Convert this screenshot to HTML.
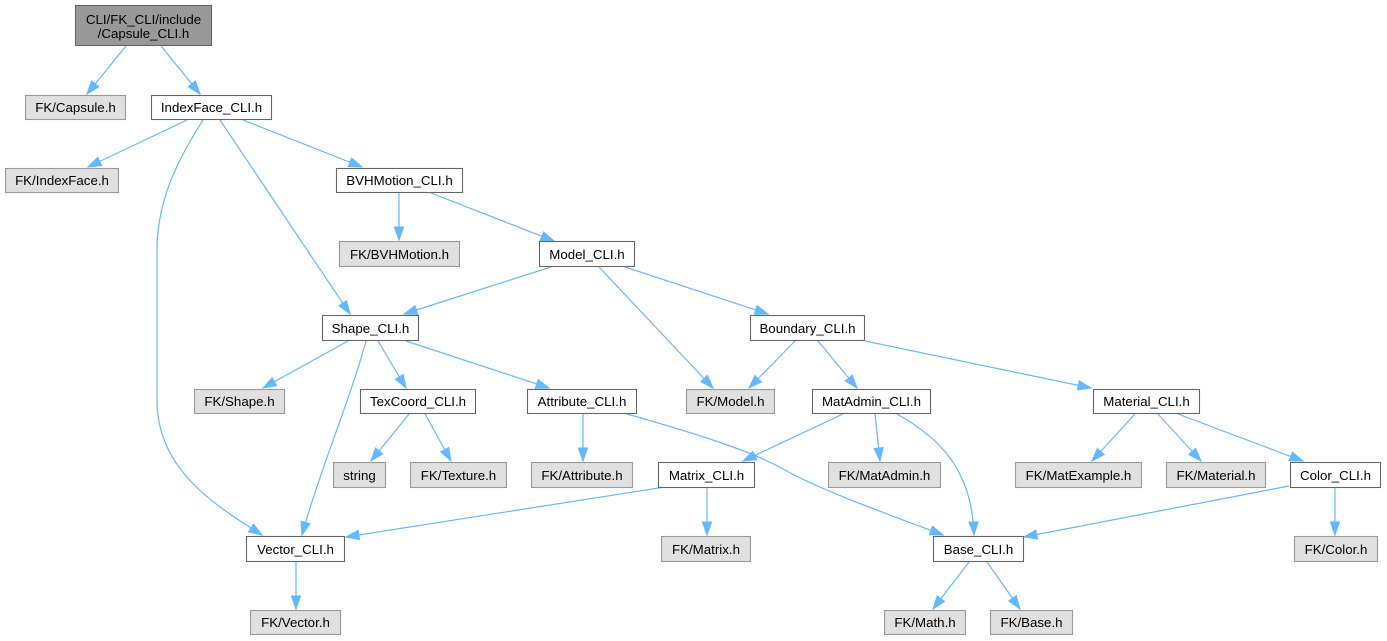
<!DOCTYPE html>
<html><head><meta charset="utf-8"><style>
html,body{margin:0;padding:0;background:#fff;}
svg{display:block;}
text{font-family:"Liberation Sans",Arial,sans-serif;font-size:13.3px;fill:#000;text-anchor:middle;}
.w{fill:#fff;stroke:#666;stroke-width:1.1;}
.g{fill:#e0e0e0;stroke:#999;stroke-width:1.1;}
.e{fill:none;stroke:#63b8ff;stroke-width:1.2;marker-end:url(#ah);}
</style></head><body>
<svg width="1387" height="641" viewBox="0 0 1387 641" xmlns="http://www.w3.org/2000/svg">
<defs>
<marker id="ah" markerWidth="14" markerHeight="10" refX="13" refY="4.6" orient="auto" markerUnits="userSpaceOnUse" style="overflow:visible">
<path d="M0,0 L13,4.6 L0,9.2 z" fill="#63b8ff" stroke="#63b8ff" stroke-width="1"/>
</marker>
</defs>

<!-- edges -->
<path class="e" d="M126,46 L87,94"/>
<path class="e" d="M161,46 L200,94"/>
<path class="e" d="M187,120 L88,167"/>
<path class="e" d="M203,120 C183,152 157,195 157,250 L157,400 C157,470 215,505 262,535"/>
<path class="e" d="M220,120 L350,314"/>
<path class="e" d="M243,120 L362,167"/>
<path class="e" d="M399,193 L399,240"/>
<path class="e" d="M431,193 L554,241"/>
<path class="e" d="M551,267 L404,314"/>
<path class="e" d="M599,267 L713,388"/>
<path class="e" d="M625,267 L768,314"/>
<path class="e" d="M348,341 L263,388"/>
<path class="e" d="M366,341 C350,400 320,470 302,535"/>
<path class="e" d="M378,341 L406,388"/>
<path class="e" d="M406,341 L549,388"/>
<path class="e" d="M409,414 L371,461"/>
<path class="e" d="M425,414 L451,461"/>
<path class="e" d="M583,414 L583,461"/>
<path class="e" d="M627,414 C690,432 750,450 785,470 C820,490 890,515 943,535"/>
<path class="e" d="M795,341 L749,388"/>
<path class="e" d="M818,341 L857,388"/>
<path class="e" d="M865,341 L1091,388"/>
<path class="e" d="M843,414 L743,461"/>
<path class="e" d="M875,414 L880,461"/>
<path class="e" d="M897,414 C940,438 972,470 974,535"/>
<path class="e" d="M665,487 L346,537"/>
<path class="e" d="M707,488 L707,535"/>
<path class="e" d="M1135,414 L1092,461"/>
<path class="e" d="M1158,414 L1201,461"/>
<path class="e" d="M1178,414 L1303,461"/>
<path class="e" d="M1289,486 L1024,537"/>
<path class="e" d="M1335,488 L1335,535"/>
<path class="e" d="M296,562 L296,609"/>
<path class="e" d="M969,562 L933,609"/>
<path class="e" d="M987,562 L1020,609"/>

<!-- top node -->
<rect x="75.5" y="5.5" width="136" height="40" fill="#999999" stroke="#666" stroke-width="1.1"/>
<text x="143.5" y="24">CLI/FK_CLI/include</text>
<text x="143.5" y="38">/Capsule_CLI.h</text>

<!-- row1 -->
<rect class="g" x="25.5" y="95.5" width="100" height="24"/><text x="75.5" y="112">FK/Capsule.h</text>
<rect class="w" x="151.5" y="95.5" width="120" height="24"/><text x="211.5" y="112">IndexFace_CLI.h</text>
<!-- row2 -->
<rect class="g" x="5.5" y="168.5" width="113" height="24"/><text x="62" y="185">FK/IndexFace.h</text>
<rect class="w" x="336.5" y="168.5" width="126" height="24"/><text x="399.5" y="185">BVHMotion_CLI.h</text>
<!-- row3 -->
<rect class="g" x="339.5" y="241.5" width="120" height="25"/><text x="399.5" y="259">FK/BVHMotion.h</text>
<rect class="w" x="539.5" y="241.5" width="95" height="25"/><text x="587" y="259">Model_CLI.h</text>
<!-- row4 -->
<rect class="w" x="322.5" y="315.5" width="96" height="25"/><text x="370.5" y="333">Shape_CLI.h</text>
<rect class="w" x="750.5" y="315.5" width="114" height="25"/><text x="807.5" y="333">Boundary_CLI.h</text>
<!-- row5 -->
<rect class="g" x="194.5" y="389.5" width="90" height="24"/><text x="239.5" y="406">FK/Shape.h</text>
<rect class="w" x="360.5" y="389.5" width="115" height="24"/><text x="418" y="406">TexCoord_CLI.h</text>
<rect class="w" x="527.5" y="389.5" width="109" height="24"/><text x="582" y="406">Attribute_CLI.h</text>
<rect class="g" x="686.5" y="389.5" width="88" height="24"/><text x="730.5" y="406">FK/Model.h</text>
<rect class="w" x="812.5" y="389.5" width="118" height="24"/><text x="871.5" y="406">MatAdmin_CLI.h</text>
<rect class="w" x="1093.5" y="389.5" width="106" height="24"/><text x="1146.5" y="406">Material_CLI.h</text>
<!-- row6 -->
<rect class="g" x="333.5" y="462.5" width="52" height="25"/><text x="359.5" y="480">string</text>
<rect class="g" x="410.5" y="462.5" width="96" height="25"/><text x="458.5" y="480">FK/Texture.h</text>
<rect class="g" x="531.5" y="462.5" width="101" height="25"/><text x="582" y="480">FK/Attribute.h</text>
<rect class="w" x="658.5" y="462.5" width="96" height="25"/><text x="706.5" y="480">Matrix_CLI.h</text>
<rect class="g" x="828.5" y="462.5" width="112" height="25"/><text x="884.5" y="480">FK/MatAdmin.h</text>
<rect class="g" x="1015.5" y="462.5" width="126" height="25"/><text x="1078.5" y="480">FK/MatExample.h</text>
<rect class="g" x="1166.5" y="462.5" width="99" height="25"/><text x="1216" y="480">FK/Material.h</text>
<rect class="w" x="1290.5" y="462.5" width="90" height="25"/><text x="1335.5" y="480">Color_CLI.h</text>
<!-- row7 -->
<rect class="w" x="246.5" y="536.5" width="98" height="25"/><text x="295.5" y="554">Vector_CLI.h</text>
<rect class="g" x="661.5" y="536.5" width="89" height="25"/><text x="706" y="554">FK/Matrix.h</text>
<rect class="w" x="933.5" y="536.5" width="90" height="25"/><text x="978.5" y="554">Base_CLI.h</text>
<rect class="g" x="1294.5" y="536.5" width="83" height="25"/><text x="1336" y="554">FK/Color.h</text>
<!-- row8 -->
<rect class="g" x="250.5" y="610.5" width="90" height="24"/><text x="295.5" y="627">FK/Vector.h</text>
<rect class="g" x="884.5" y="610.5" width="81" height="24"/><text x="925" y="627">FK/Math.h</text>
<rect class="g" x="990.5" y="610.5" width="82" height="24"/><text x="1031.5" y="627">FK/Base.h</text>
</svg>
</body></html>
